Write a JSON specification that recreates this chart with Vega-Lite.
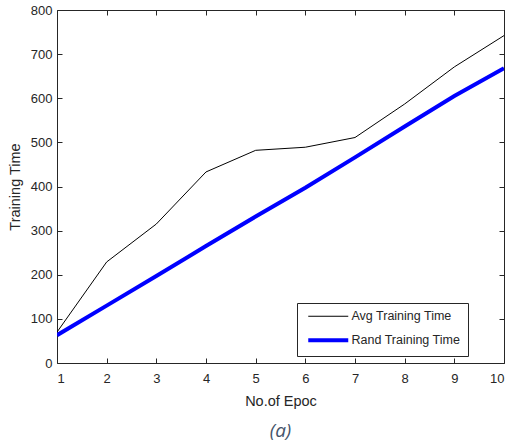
{
  "$schema": "https://vega.github.io/schema/vega-lite/v6.json",
  "autosize": {"type": "none"},
  "width": 447,
  "height": 353,
  "padding": {"left": 57, "top": 10, "right": 9, "bottom": 83},
  "background": "white",
  "config": {
    "view": {"stroke": "#262626", "strokeWidth": 1},
    "font": "Liberation Sans",
    "axis": {"domain": false, "grid": false, "tickColor": "#262626", "labelColor": "#262626", "titleColor": "#262626", "labelFont": "Liberation Sans", "titleFont": "Liberation Sans", "labelFontSize": 13, "titleFontSize": 14.5, "titleFontWeight": "normal"}
  },
  "title": {"text": "(a)", "orient": "bottom", "font": "Open Sans", "fontStyle": "italic", "fontWeight": "normal", "fontSize": 19, "color": "#44546A", "offset": 14, "anchor": "middle"},
  "data": {"values": [
    {"epoch": 1, "series": "Avg Training Time", "time": 70},
    {"epoch": 2, "series": "Avg Training Time", "time": 229},
    {"epoch": 3, "series": "Avg Training Time", "time": 315},
    {"epoch": 4, "series": "Avg Training Time", "time": 433},
    {"epoch": 5, "series": "Avg Training Time", "time": 482},
    {"epoch": 6, "series": "Avg Training Time", "time": 489},
    {"epoch": 7, "series": "Avg Training Time", "time": 511},
    {"epoch": 8, "series": "Avg Training Time", "time": 587},
    {"epoch": 9, "series": "Avg Training Time", "time": 671},
    {"epoch": 10, "series": "Avg Training Time", "time": 742},
    {"epoch": 1, "series": "Rand Training Time", "time": 63},
    {"epoch": 2, "series": "Rand Training Time", "time": 130},
    {"epoch": 3, "series": "Rand Training Time", "time": 197},
    {"epoch": 4, "series": "Rand Training Time", "time": 265},
    {"epoch": 5, "series": "Rand Training Time", "time": 332},
    {"epoch": 6, "series": "Rand Training Time", "time": 397},
    {"epoch": 7, "series": "Rand Training Time", "time": 466},
    {"epoch": 8, "series": "Rand Training Time", "time": 536},
    {"epoch": 9, "series": "Rand Training Time", "time": 605},
    {"epoch": 10, "series": "Rand Training Time", "time": 668}
  ]},
  "layer": [
    {
      "mark": {"type": "line", "clip": true},
      "encoding": {
        "x": {"field": "epoch", "type": "quantitative", "scale": {"domain": [1, 10], "nice": false}, "axis": {"orient": "bottom", "values": [1,2,3,4,5,6,7,8,9,10], "tickSize": -5, "labelPadding": 14, "title": "No.of Epoc", "titlePadding": 9}},
        "y": {"field": "time", "type": "quantitative", "scale": {"domain": [0, 800], "nice": false}, "axis": {"orient": "left", "values": [0,100,200,300,400,500,600,700,800], "tickSize": -5, "labelPadding": 10, "title": "Training Time", "titlePadding": 8}},
        "color": {"field": "series", "type": "nominal", "scale": {"domain": ["Avg Training Time", "Rand Training Time"], "range": ["#000000", "#0000FF"]},
          "legend": {"title": null, "orient": "none", "legendX": 240, "legendY": 293, "symbolType": "M-5,0H5", "symbolSize": 64, "labelFontSize": 12.5, "labelColor": "#262626", "labelFont": "Liberation Sans", "strokeColor": "#262626", "fillColor": "white", "padding": 7, "rowPadding": 9, "labelOffset": 17, "symbolOffset": 18}},
        "strokeWidth": {"field": "series", "type": "nominal", "scale": {"domain": ["Avg Training Time", "Rand Training Time"], "range": [1, 4]}, "legend": {"title": null, "orient": "none", "legendX": 240, "legendY": 293, "symbolType": "M-5,0H5", "symbolSize": 64, "labelFontSize": 12.5, "labelColor": "#262626", "labelFont": "Liberation Sans", "strokeColor": "#262626", "fillColor": "white", "padding": 7, "rowPadding": 9, "labelOffset": 17, "symbolOffset": 18}}
      }
    },
    {
      "mark": {"type": "line", "opacity": 0},
      "encoding": {
        "x": {"field": "epoch", "type": "quantitative", "axis": {"orient": "top", "values": [1,2,3,4,5,6,7,8,9,10], "tickSize": -5, "labels": false, "title": null}},
        "y": {"field": "time", "type": "quantitative", "axis": {"orient": "right", "values": [0,100,200,300,400,500,600,700,800], "tickSize": -5, "labels": false, "title": null}},
        "detail": {"field": "series"}
      }
    }
  ],
  "resolve": {"scale": {"x": "shared", "y": "shared"}, "axis": {"x": "independent", "y": "independent"}}
}
